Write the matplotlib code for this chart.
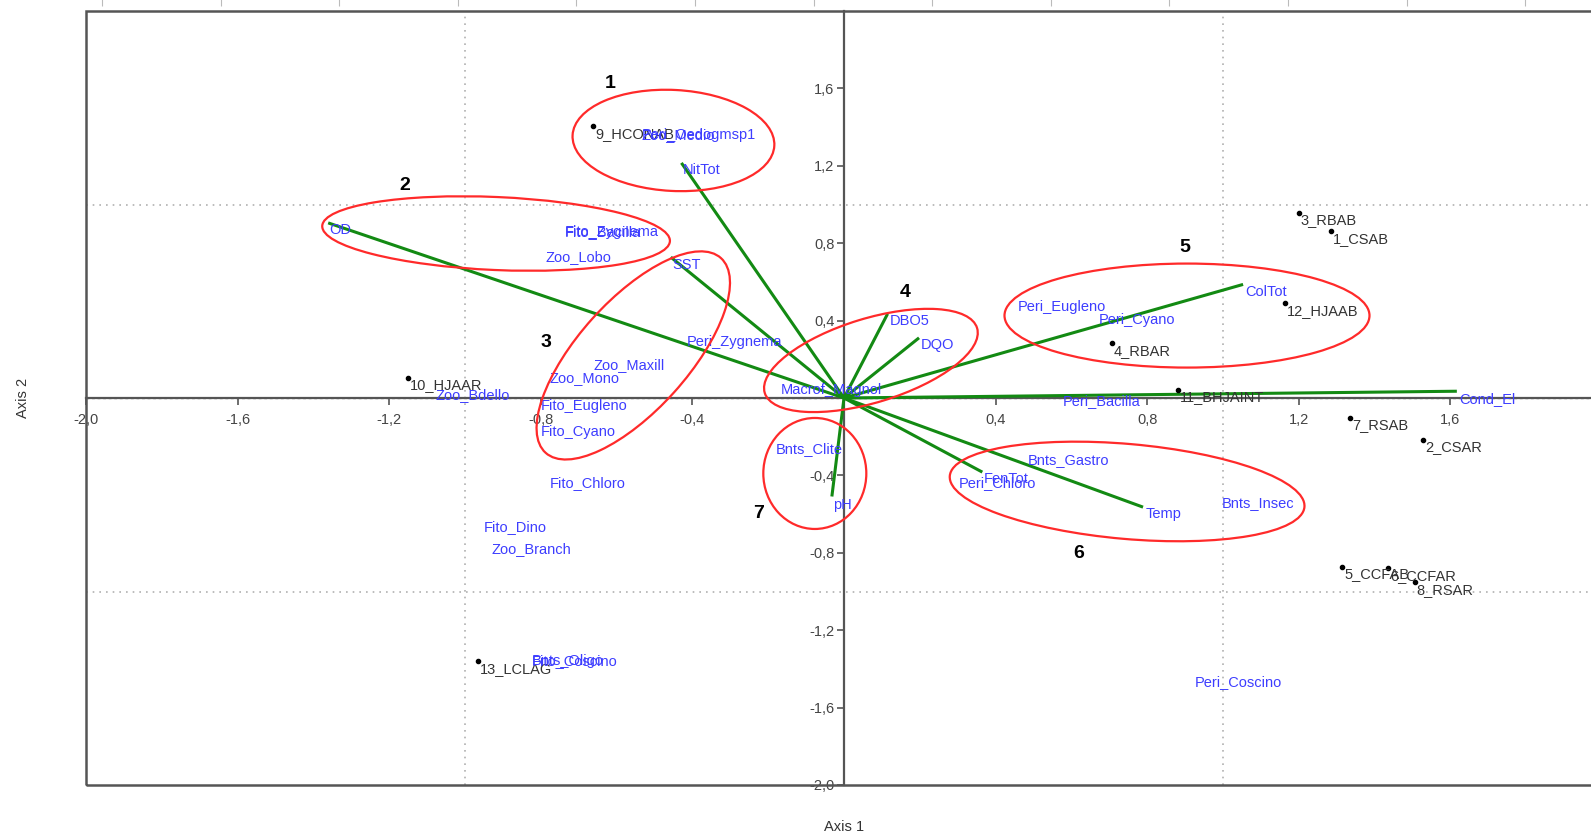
import numpy as np
import matplotlib
matplotlib.use("Agg")
import matplotlib.pyplot as plt
from matplotlib.patches import Ellipse, Rectangle
from matplotlib.transforms import ScaledTranslation
from matplotlib.ticker import FuncFormatter, FixedLocator

plt.rcParams['font.family'] = ['Liberation Sans', 'DejaVu Sans']

## Data ---------------------------------------------

# sample sites (black dots)
site_names = ["9_HCONAB", "3_RBAB", "1_CSAB", "12_HJAAB", "4_RBAR", "11_BHJAINT",
              "7_RSAB", "2_CSAR", "5_CCFAB", "6_CCFAR", "8_RSAR", "10_HJAAR", "13_LCLAG"]
site_x = [-0.662, 1.200, 1.285, 1.163, 0.707, 0.881, 1.335, 1.528, 1.314, 1.435, 1.506, -1.151, -0.966]
site_y = [1.405, 0.957, 0.862, 0.490, 0.283, 0.042, -0.102, -0.216, -0.871, -0.878, -0.952, 0.104, -1.360]

# environmental vectors (green lines from origin)
env_names = ["OD", "NitTot", "SST", "DBO5", "DQO", "ColTot", "Cond_El", "FenTot", "Temp", "pH"]
env_x = [-1.361, -0.429, -0.457, 0.115, 0.198, 1.053, 1.617, 0.365, 0.789, -0.032]
env_y = [0.905, 1.215, 0.728, 0.435, 0.311, 0.587, 0.035, -0.383, -0.564, -0.509]
env_lab_x = [-1.357, -0.425, -0.454, 0.121, 0.203, 1.060, 1.623, 0.369, 0.797, -0.029]
env_lab_y = [0.866, 1.176, 0.685, 0.397, 0.276, 0.547, -0.004, -0.421, -0.602, -0.552]

# taxa (blue labels)
taxa_names = ["Fito_Bacilla", "Fito_Zygnema", "Zoo_Lobo", "Zoo_Medio", "Peri_Oedogmsp1",
              "Peri_Zygnema", "Zoo_Maxill", "Zoo_Mono", "Zoo_Bdello", "Fito_Eugleno",
              "Fito_Cyano", "Fito_Chloro", "Fito_Dino", "Zoo_Branch", "Bnts_Oligo",
              "Fito_Coscino", "Macrof_Magnol", "Bnts_Clite", "Peri_Chloro", "Bnts_Gastro",
              "Bnts_Insec", "Peri_Eugleno", "Peri_Cyano", "Peri_Bacilla", "Peri_Coscino"]
taxa_x = [-0.736, -0.736, -0.787, -0.533, -0.533, -0.414, -0.660, -0.778, -1.077, -0.799,
          -0.799, -0.776, -0.950, -0.929, -0.823, -0.823, -0.167, -0.179, 0.303, 0.485,
          0.996, 0.459, 0.672, 0.578, 0.926]
taxa_y = [0.857, 0.857, 0.728, 1.357, 1.357, 0.288, 0.168, 0.104, 0.013, -0.042,
          -0.177, -0.440, -0.668, -0.779, -1.360, -1.360, 0.042, -0.263, -0.440, -0.319,
          -0.544, 0.469, 0.404, -0.017, -1.469]

# groups (red ellipses): centre in data units, size in pixels, angle in degrees
group_ids = ["1", "2", "3", "4", "5", "6", "7"]
group_cx = [-0.450, -0.918, -0.556, 0.071, 0.905, 0.747, -0.077]
group_cy = [1.331, 0.850, 0.220, 0.194, 0.426, -0.483, -0.390]
group_w = [202, 348, 262, 222, 365, 356, 103]
group_h = [101, 73, 110, 84, 104, 95, 111]
group_ang = [-3, -2.5, 48, 17, 0, -5, 0]
group_lab_x = [-0.618, -1.160, -0.787, 0.161, 0.899, 0.618, -0.225]
group_lab_y = [1.624, 1.098, 0.288, 0.547, 0.779, -0.805, -0.598]

## Figure -------------------------------------------

W, H, DPI = 1591, 835, 100
fig = plt.figure(figsize=(W / DPI, H / DPI), dpi=DPI)
ax = fig.add_axes([86 / W, 50 / H, 1516 / W, 774 / H])
ax.set_xlim(-2.0, 2.0)
ax.set_ylim(-2.0, 2.0)

AXC = "#555555"
BLUE = "#3d3dff"
GREEN = "#138a13"
RED = "#ff2a2a"

for s in ["top", "right"]:
    ax.spines[s].set_visible(False)
ax.spines["left"].set_position(("data", 0))
ax.spines["bottom"].set_position(("data", 0))
for s in ["left", "bottom"]:
    ax.spines[s].set_color(AXC)
    ax.spines[s].set_linewidth(1.6)
ax.add_patch(Rectangle((0, 0), 1, 1, transform=ax.transAxes, fill=False,
                       ec=AXC, lw=1.8, clip_on=False, zorder=5))

comma = FuncFormatter(lambda v, p: "" if abs(v) < 1e-9 else f"{v:.1f}".replace(".", ","))
ax.xaxis.set_major_locator(FixedLocator(np.arange(-2.0, 1.61, 0.4)))
ax.yaxis.set_major_locator(FixedLocator(np.arange(-2.0, 1.61, 0.4)))
ax.xaxis.set_major_formatter(comma)
ax.yaxis.set_major_formatter(comma)
ax.tick_params(axis="both", colors=AXC, labelcolor="#444444", labelsize=10.5,
               length=5, width=1.2, direction="out")
ax.tick_params(axis="x", pad=6)
ax.tick_params(axis="y", pad=2)

# dotted reference lines
for v in [-1.0, 1.0]:
    ax.axvline(v, color="#b0b0b0", lw=1.2, ls=(0, (1, 3)), zorder=0)
    ax.axhline(v, color="#b0b0b0", lw=1.2, ls=(0, (1, 3)), zorder=0)
ax.axhline(0, color="#888888", lw=1.0, ls=(0, (2, 2)), zorder=1)

ax.set_xlabel("Axis 1", fontsize=10.5, color="#333333")
ax.set_ylabel("Axis 2", fontsize=10.5, color="#333333")
ax.xaxis.set_label_coords(0.5, -0.045)
ax.yaxis.set_label_coords(-0.037, 0.5)

## Vectors ------------------------------------------

for name, x, y, lx, ly in zip(env_names, env_x, env_y, env_lab_x, env_lab_y):
    ax.plot([0, x], [0, y], color=GREEN, lw=2.2, solid_capstyle="butt", zorder=3)
    ax.text(lx, ly, name, color=BLUE, fontsize=10.5, ha="left", va="center", zorder=6)

## Taxa ---------------------------------------------

for name, x, y in zip(taxa_names, taxa_x, taxa_y):
    ax.text(x, y, name, color=BLUE, fontsize=10.5, ha="left", va="center", zorder=6)

## Sites --------------------------------------------

ax.scatter(site_x, site_y, s=9, color="black", zorder=4)
for name, x, y in zip(site_names, site_x, site_y):
    ax.annotate(name, (x, y), xytext=(1.5, -5.5), textcoords="offset points",
                fontsize=10.5, color="#333333", ha="left", va="center", zorder=5)

## Groups -------------------------------------------

for gid, cx, cy, w, h, a, lx, ly in zip(group_ids, group_cx, group_cy, group_w, group_h,
                                         group_ang, group_lab_x, group_lab_y):
    trans = fig.dpi_scale_trans + ScaledTranslation(cx, cy, ax.transData)
    ax.add_patch(Ellipse((0, 0), w / DPI, h / DPI, angle=a, transform=trans,
                         fill=False, ec=RED, lw=1.6, zorder=7))
    ax.text(lx, ly, gid, fontsize=14, fontweight="bold", color="black",
            ha="center", va="center", zorder=7)

# tick marks of the panel cut off above
ax_top = fig.add_axes([0, 829 / H, 1, 6 / H])
ax_top.set_xlim(0, W)
ax_top.set_ylim(0, 1)
for s in ax_top.spines.values():
    s.set_visible(False)
ax_top.set_yticks([])
ax_top.set_xticks(np.arange(102, W, 118.6))
ax_top.tick_params(axis="x", direction="in", length=6, color="#bbbbbb", labelbottom=False)
ax_top.patch.set_alpha(0)

fig.savefig("out.png", dpi=DPI)
